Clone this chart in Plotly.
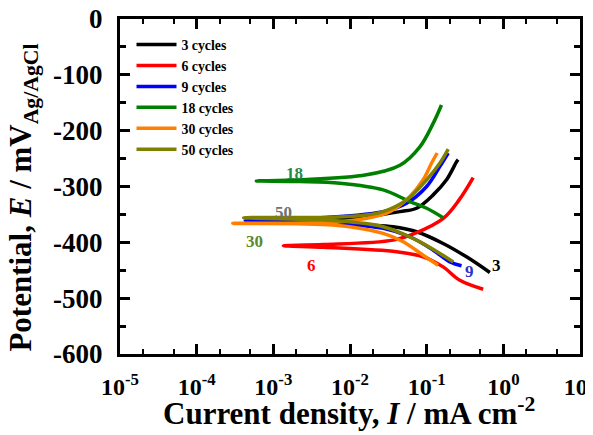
import math
import plotly.graph_objects as go

# ---- data (current density mA/cm2, potential mV), traced cathodic end -> Ecorr -> anodic end
names = ["3 cycles", "6 cycles", "9 cycles", "18 cycles", "30 cycles", "50 cycles"]
colors = ["#000000", "#ff0000", "#0000ff", "#008000", "#ff8000", "#808000"]

I_3 = [0.667, 0.331, 0.164, 0.0738, 0.0366, 0.0164, 0.0032, 0.0015, 0.0032, 0.0164, 0.0448, 0.0738, 0.1216, 0.1816, 0.245, 0.257]
E_3 = [-454, -426, -402, -381, -372, -369, -364, -363, -362, -354, -345, -339, -315, -288, -256, -252]

I_6 = [0.546, 0.271, 0.164, 0.0899, 0.0405, 0.0045, 0.00135, 0.0045, 0.0366, 0.0700, 0.165, 0.265, 0.404]
E_6 = [-484, -468, -444, -426, -417, -409, -406, -404, -396, -384, -357, -324, -284]

I_9 = [0.285, 0.201, 0.1216, 0.0604, 0.0271, 0.0060, 0.00043, 0.0022, 0.0271, 0.0547, 0.100, 0.149, 0.191]
E_9 = [-442, -435, -414, -390, -375, -366, -361, -358, -345, -330, -300, -264, -240]

I_18 = [0.164, 0.100, 0.0604, 0.0271, 0.0074, 0.0022, 0.0006, 0.0022, 0.0164, 0.0448, 0.0815, 0.1215, 0.156]
E_18 = [-356, -339, -327, -306, -294, -291, -290, -288, -279, -262, -229, -187, -154]

I_30 = [0.141, 0.0899, 0.0494, 0.0271, 0.0060, 0.000295, 0.0060, 0.0164, 0.0331, 0.0604, 0.0899, 0.116, 0.137]
E_30 = [-441, -423, -399, -384, -369, -366, -364, -357, -345, -318, -288, -258, -240]

I_50 = [0.222, 0.149, 0.0738, 0.0271, 0.0060, 0.00041, 0.0060, 0.0164, 0.0271, 0.0547, 0.100, 0.149, 0.191]
E_50 = [-435, -420, -396, -372, -361, -356, -355, -351, -345, -324, -288, -258, -233]

xs = [I_3, I_6, I_9, I_18, I_30, I_50]
ys = [E_3, E_6, E_9, E_18, E_30, E_50]

x_tickvals = [1e-5, 1e-4, 1e-3, 1e-2, 1e-1, 1e0, 1e1]
x_ticktext = ["10<sup>-5</sup>", "10<sup>-4</sup>", "10<sup>-3</sup>", "10<sup>-2</sup>",
              "10<sup>-1</sup>", "10<sup>0</sup>", "10<sup>1</sup>"]
y_tickvals = [0, -100, -200, -300, -400, -500, -600]
y_ticktext = ["0", "-100", "-200", "-300", "-400", "-500", "-600"]

label_text = ["18", "50", "30", "6", "9", "3"]
label_I = [1.86e-3, 1.37e-3, 5.75e-4, 3.18e-3, 0.365, 0.822]
label_E = [-276, -346, -398, -442, -453, -441]
label_colors = ["#1f8a4c", "#707070", "#5a8a2a", "#ff0000", "#3030c8", "#000000"]

x_title = "Current density, <i>I</i> / mA cm<sup>-2</sup>"
y_title = "Potential, <i>E</i> / mV<sub>Ag/AgCl</sub>"

FONT = "Liberation Serif"

fig = go.Figure()
for n, c, x, y in zip(names, colors, xs, ys):
    fig.add_trace(go.Scatter(x=x, y=y, mode="lines", name=n,
                             line=dict(color=c, width=3.5, shape="spline", smoothing=1.0)))

for t, xi, yi, c in zip(label_text, label_I, label_E, label_colors):
    fig.add_annotation(x=math.log10(xi), y=yi, text=t, showarrow=False,
                       font=dict(family=FONT, size=17, color=c, weight="bold"))

# axis titles as paper-anchored annotations
fig.add_annotation(xref="paper", yref="paper", x=0.497, y=-0.172, xanchor="center", yanchor="middle",
                   text=x_title, showarrow=False,
                   font=dict(family=FONT, size=31, color="black", weight="bold"))
fig.add_annotation(xref="paper", yref="paper", x=-0.21, y=0.468, xanchor="center", yanchor="middle",
                   text=y_title, textangle=-90, showarrow=False,
                   font=dict(family=FONT, size=31, color="black", weight="bold"))

axis_common = dict(showline=True, linecolor="black", linewidth=3, mirror="allticks",
                   ticks="inside", ticklen=10, tickwidth=2.5, tickcolor="black",
                   showgrid=False, zeroline=False, automargin=False, ticklabeloverflow="allow")

fig.update_xaxes(type="log", range=[-5, 1], tickvals=x_tickvals, ticktext=x_ticktext,
                 tickfont=dict(family=FONT, size=24, color="black", weight="bold"),
                 minor=dict(ticks="inside", ticklen=5, tickwidth=1.5, tickcolor="black", showgrid=False),
                 ticklabelstandoff=9,
                 **axis_common)
fig.update_yaxes(range=[-600, 0], tickvals=y_tickvals, ticktext=y_ticktext,
                 tickfont=dict(family=FONT, size=27, color="black", weight="bold"),
                 minor=dict(ticks="inside", ticklen=6, tickwidth=2.5, tickcolor="black", dtick=50, showgrid=False),
                 ticklabelstandoff=9,
                 **axis_common)

# page has an 8px body margin: figure is offset by (8, 8)
fig.update_layout(width=585, height=427, margin=dict(l=112, r=13, t=11, b=81),
                  plot_bgcolor="white", paper_bgcolor="white",
                  legend=dict(x=0.025, y=0.970, xanchor="left", yanchor="top", itemwidth=40,
                              bgcolor="rgba(0,0,0,0)", tracegroupgap=0,
                              font=dict(family=FONT, size=13.8, color="black", weight="bold")))

fig.write_html("out.html")
